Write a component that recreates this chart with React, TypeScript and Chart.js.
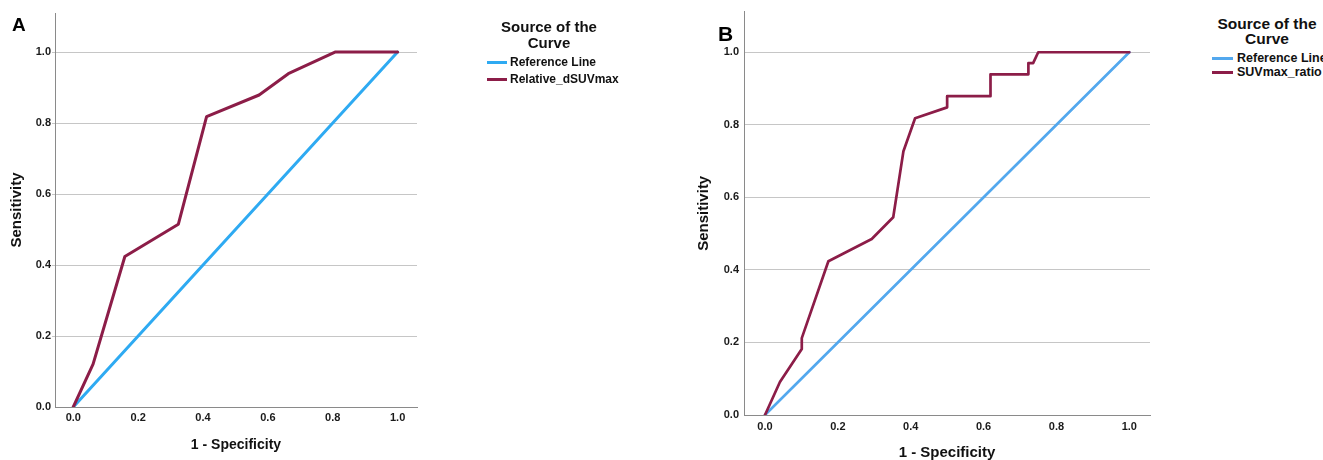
import React, { useEffect, useRef } from "react";
import { Chart, registerables } from "chart.js";

Chart.register(...registerables);

const FONT = '"Liberation Sans", Arial, Helvetica, sans-serif';

// Tick labels
const xTickValues = [0, 0.2, 0.4, 0.6, 0.8, 1.0];
const yTickValues = [0, 0.2, 0.4, 0.6, 0.8, 1.0];

// Reference (diagonal) line
const refX = [0, 1];
const refY = [0, 1];

// Panel A: Relative_dSUVmax ROC curve
const fprA = [0, 0.061, 0.159, 0.324, 0.411, 0.573, 0.663, 0.807, 1.0];
const sensA = [0, 0.121, 0.424, 0.515, 0.818, 0.879, 0.939, 1.0, 1.0];

// Panel B: SUVmax_ratio ROC curve
const fprB = [0, 0.041, 0.101, 0.101, 0.174, 0.293, 0.352, 0.38, 0.412, 0.5, 0.5, 0.619, 0.619, 0.723, 0.723, 0.736, 0.75, 1.0];
const sensB = [0, 0.091, 0.182, 0.212, 0.424, 0.485, 0.545, 0.727, 0.818, 0.848, 0.879, 0.879, 0.939, 0.939, 0.97, 0.97, 1.0, 1.0];

const RED = "#8c1d48";

type Panel = {
  fpr: number[];
  sens: number[];
  curveName: string;
  blue: string;
  lw: number;
  left: number;
  width: number;
  height: number;
  top: number;
  right: number;
  yAxisW: number;
  xAxisH: number;
  xMin: number;
  xMax: number;
  yMax: number;
  xTickPad: number;
  yTickPad: number;
  yTickLen: number;
  tickSize: number;
  xTitleSize: number;
  xTitlePadB: number;
  yTitleSize: number;
  yTitlePadT: number;
};

const panelA: Panel = {
  fpr: fprA,
  sens: sensA,
  curveName: "Relative_dSUVmax",
  blue: "#2eaaf2",
  lw: 3,
  left: 0,
  width: 420,
  height: 460,
  top: 13,
  right: 3,
  yAxisW: 55,
  xAxisH: 53,
  xMin: -0.0564,
  xMax: 1.0598,
  yMax: 1.11,
  xTickPad: 4,
  yTickPad: 1,
  yTickLen: 3,
  tickSize: 11,
  xTitleSize: 14,
  xTitlePadB: 6.5,
  yTitleSize: 15,
  yTitlePadT: 8,
};

const panelB: Panel = {
  fpr: fprB,
  sens: sensB,
  curveName: "SUVmax_ratio",
  blue: "#53a8ee",
  lw: 2.7,
  left: 690,
  width: 463,
  height: 470,
  top: 9,
  right: 3,
  yAxisW: 54,
  xAxisH: 55,
  xMin: -0.0576,
  xMax: 1.0568,
  yMax: 1.112,
  xTickPad: 5,
  yTickPad: 5,
  yTickLen: 0,
  tickSize: 11,
  xTitleSize: 15,
  xTitlePadB: 8,
  yTitleSize: 15,
  yTitlePadT: 5,
};

function makeConfig(p: Panel): any {
  return {
    type: "line",
    data: {
      datasets: [
        {
          label: p.curveName,
          data: p.fpr.map((x, i) => ({ x, y: p.sens[i] })),
          borderColor: RED,
          backgroundColor: RED,
          borderWidth: p.lw,
          pointRadius: 0,
          tension: 0,
          fill: false,
          borderJoinStyle: "round",
          borderCapStyle: "round",
        },
        {
          label: "Reference Line",
          data: refX.map((x, i) => ({ x, y: refY[i] })),
          borderColor: p.blue,
          backgroundColor: p.blue,
          borderWidth: p.lw,
          pointRadius: 0,
          tension: 0,
          fill: false,
          borderCapStyle: "round",
        },
      ],
    },
    options: {
      animation: false,
      responsive: false,
      maintainAspectRatio: false,
      events: [],
      layout: { padding: { top: p.top, right: p.right, left: 0, bottom: 0 } },
      plugins: { legend: { display: false }, tooltip: { enabled: false } },
      scales: {
        x: {
          type: "linear",
          min: p.xMin,
          max: p.xMax,
          afterBuildTicks: (s: any) => {
            s.ticks = xTickValues.map((v) => ({ value: v }));
          },
          afterFit: (s: any) => {
            s.height = p.xAxisH;
          },
          grid: { display: false, drawTicks: false },
          border: { display: true, color: "#8a8a8a", width: 1 },
          ticks: {
            padding: p.xTickPad,
            color: "#1a1a1a",
            maxRotation: 0,
            autoSkip: false,
            font: { family: FONT, size: p.tickSize, weight: "bold" },
            callback: (v: any) => Number(v).toFixed(1),
          },
          title: {
            display: true,
            text: "1 - Specificity",
            color: "#111",
            font: { family: FONT, size: p.xTitleSize, weight: "bold" },
            padding: { top: 0, bottom: p.xTitlePadB },
          },
        },
        y: {
          type: "linear",
          min: 0,
          max: p.yMax,
          afterBuildTicks: (s: any) => {
            s.ticks = yTickValues.map((v) => ({ value: v }));
          },
          afterFit: (s: any) => {
            s.width = p.yAxisW;
          },
          grid: {
            display: true,
            color: (c: any) => (c.tick && c.tick.value === 0 ? "rgba(0,0,0,0)" : "#c6c6c6"),
            lineWidth: 1,
            drawTicks: p.yTickLen > 0,
            tickLength: p.yTickLen,
          },
          border: { display: true, color: "#8a8a8a", width: 1 },
          ticks: {
            padding: p.yTickPad,
            color: "#1a1a1a",
            autoSkip: false,
            font: { family: FONT, size: p.tickSize, weight: "bold" },
            callback: (v: any) => Number(v).toFixed(1),
          },
          title: {
            display: true,
            text: "Sensitivity",
            color: "#111",
            font: { family: FONT, size: p.yTitleSize, weight: "bold" },
            padding: { top: p.yTitlePadT, bottom: 0 },
          },
        },
      },
    },
  };
}

function RocChart({ p }: { p: Panel }) {
  const ref = useRef<HTMLCanvasElement | null>(null);
  useEffect(() => {
    if (!ref.current) return;
    const chart = new Chart(ref.current, makeConfig(p));
    return () => chart.destroy();
  }, [p]);
  return (
    <canvas
      ref={ref}
      width={p.width}
      height={p.height}
      style={{ position: "absolute", left: p.left, top: 0, width: p.width, height: p.height }}
    />
  );
}

const abs = (o: React.CSSProperties): React.CSSProperties => ({ position: "absolute", ...o });

function Legend({
  titleCx,
  titleTop,
  titleSize,
  titleLH,
  swX,
  swW,
  textX,
  rowY,
  textSize,
  blue,
  curveName,
}: {
  titleCx: number;
  titleTop: number;
  titleSize: number;
  titleLH: number;
  swX: number;
  swW: number;
  textX: number;
  rowY: number[];
  textSize: number;
  blue: string;
  curveName: string;
}) {
  const items = [
    { label: "Reference Line", color: blue },
    { label: curveName, color: RED },
  ];
  return (
    <>
      <div
        style={abs({
          left: titleCx - 100,
          top: titleTop,
          width: 200,
          textAlign: "center",
          fontFamily: FONT,
          fontWeight: "bold",
          fontSize: titleSize,
          lineHeight: titleLH + "px",
          color: "#111",
        })}
      >
        Source of the
        <br />
        Curve
      </div>
      {items.map((it, i) => (
        <React.Fragment key={it.label}>
          <div style={abs({ left: swX, top: rowY[i] - 1.5, width: swW, height: 3, background: it.color })} />
          <div
            style={abs({
              left: textX,
              top: rowY[i] - 8,
              height: 16,
              lineHeight: "16px",
              fontFamily: FONT,
              fontWeight: "bold",
              fontSize: textSize,
              color: "#111",
              whiteSpace: "nowrap",
            })}
          >
            {it.label}
          </div>
        </React.Fragment>
      ))}
    </>
  );
}

export default function App() {
  return (
    <div
      style={{
        position: "fixed",
        left: 0,
        top: 0,
        width: 1323,
        height: 460,
        overflow: "hidden",
        background: "#ffffff",
      }}
    >
      <RocChart p={panelA} />
      <RocChart p={panelB} />
      <div
        style={abs({
          left: 12,
          top: 14.5,
          fontFamily: FONT,
          fontWeight: "bold",
          fontSize: 19,
          lineHeight: "19px",
          color: "#000",
        })}
      >
        A
      </div>
      <div
        style={abs({
          left: 718,
          top: 23,
          fontFamily: FONT,
          fontWeight: "bold",
          fontSize: 21,
          lineHeight: "21px",
          color: "#000",
        })}
      >
        B
      </div>
      <Legend
        titleCx={549}
        titleTop={19}
        titleSize={15}
        titleLH={16}
        swX={487}
        swW={20}
        textX={510}
        rowY={[62, 79]}
        textSize={12}
        blue={panelA.blue}
        curveName={panelA.curveName}
      />
      <Legend
        titleCx={1267}
        titleTop={15.5}
        titleSize={15.5}
        titleLH={15}
        swX={1212}
        swW={21}
        textX={1237}
        rowY={[58, 72]}
        textSize={12.5}
        blue={panelB.blue}
        curveName={panelB.curveName}
      />
    </div>
  );
}
